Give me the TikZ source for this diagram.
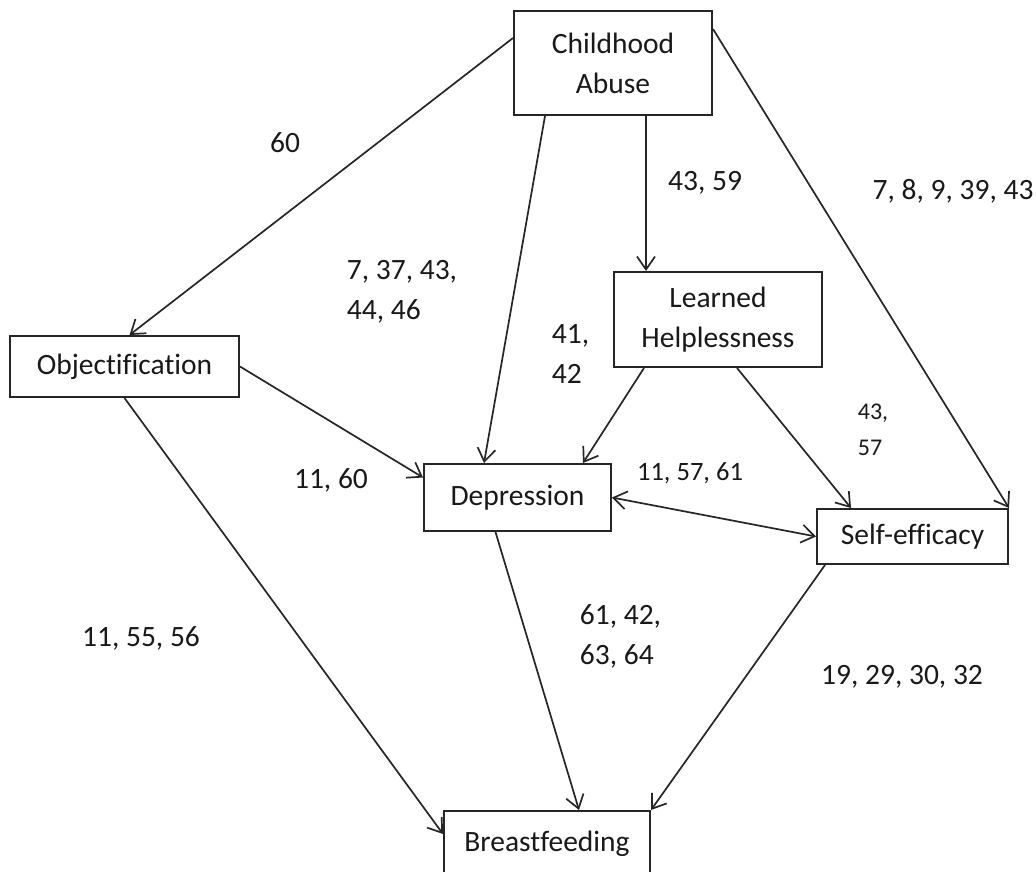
\documentclass[tikz,border=0pt]{standalone}
\usepackage{fontspec}
\setmainfont{Carlito}[Ligatures=CommonOff]
\usetikzlibrary{arrows.meta}
\tikzset{every node/.style={align=center}, >={Straight Barb[length=13pt,width=18pt]}, font=\fontsize{29.5}{40}\selectfont}
\tikzset{box/.style={draw, line width=2pt, inner sep=0pt, text=black!90},
         num/.style={align=left, text=black!90, inner sep=0pt}}

\begin{document}
\begin{tikzpicture}[x=1pt, y=-1pt, line width=1.7pt, draw=black!85]
    \clip (0,0) rectangle (1036,871);
    \fill[white] (0,0) rectangle (1036,871);
    % boxes
    \node [box, minimum width=198pt, minimum height=104pt] (ca) at (613,63) {Childhood\\Abuse};
    \node [box, minimum width=229pt, minimum height=61pt] (obj) at (124.5,366.5) {Objectification};
    \node [box, minimum width=208pt, minimum height=95pt] (lh) at (718,319.5) {Learned\\Helplessness};
    \node [box, minimum width=187pt, minimum height=67pt] (dep) at (517.5,497.5) {Depression};
    \node [box, minimum width=191pt, minimum height=55pt] (se) at (912.5,536.5) {Self-efficacy};
    \node [box, minimum width=206pt, minimum height=65pt] (bf) at (547,843.5) {Breastfeeding};
    % paths
    \draw[->] ([yshift=25pt]ca.west) -- ([xshift=5pt]obj.north);
    \draw[->] ([xshift=32pt]ca.south west) -- ([xshift=61pt]dep.north west);
    \draw[->] ([xshift=33pt]ca.south) -- ([xshift=-72pt]lh.north);
    \draw[->] ([yshift=-19pt]ca.north east) -- (se.north east);
    \draw[->] (obj.east) -- ([yshift=20pt]dep.west);
    \draw[->] (obj.south) -- ([yshift=-24pt]bf.north west);
    \draw[->] ([xshift=31pt]lh.south west) -- ([xshift=-29pt]dep.north east);
    \draw[->] ([xshift=19pt]lh.south) -- ([xshift=35pt]se.north west);
    \draw[<->] (dep.east) -- (se.west);
    \draw[->] ([xshift=-22pt]dep.south) -- ([xshift=32pt]bf.north);
    \draw[->] ([xshift=9pt]se.south west) -- (bf.north east);
    % studies
    \node [num] (n1) at (285,143) {60};
    \node [num] (n2) at (705,183) {43, 59};
    \node [num] (n3) at (953,191) {7, 8, 9, 39, 43};
    \node [num, anchor=west] (n4) at (346,292) {7, 37, 43,\\44, 46};
    \node [num, anchor=west] (n5) at (551,354) {41,\\42};
    \node [num, anchor=west, font=\fontsize{24}{36}\selectfont] (n6) at (857,430) {43,\\57};
    \node [num, font=\fontsize{26.5}{36}\selectfont] (n7) at (690,473) {11, 57, 61};
    \node [num] (n8) at (331,480) {11, 60};
    \node [num, anchor=west] (n9) at (579,636) {61, 42,\\63, 64};
    \node [num] (n10) at (141,638) {11, 55, 56};
    \node [num] (n11) at (902,677) {19, 29, 30, 32};
\end{tikzpicture}
\end{document}
